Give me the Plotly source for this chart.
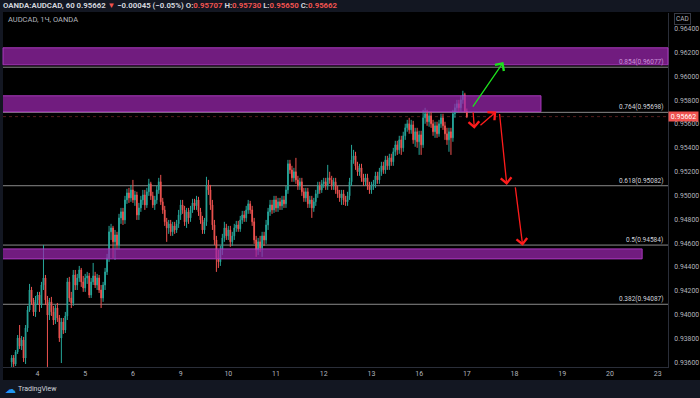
import plotly.graph_objects as go

# ---------------- data (AUDCAD, 1h, OANDA) ----------------
BAR_START = -13          # index of first hourly bar (0 = day "4", 00:00)
FIRST_OPEN = 0.93603

CLOSE = [
    0.93636, 0.93586, 0.93687, 0.93804, 0.93737, 0.93787, 0.93636, 0.93888, 0.94039, 0.94207, 0.94107, 0.94023,
    0.94123, 0.94165, 0.94081, 0.94249, 0.94308, 0.94123, 0.93997, 0.94107, 0.94023, 0.93955, 0.94056, 0.93972,
    0.93804, 0.93939, 0.93871, 0.93989, 0.94275, 0.94140, 0.94098, 0.94333, 0.94249, 0.94308, 0.94375, 0.94275,
    0.94224, 0.94308, 0.94325, 0.94165, 0.94275, 0.94325, 0.94249, 0.94308, 0.94207, 0.94140, 0.94249, 0.94359,
    0.94476, 0.94695, 0.94728, 0.94611, 0.94669, 0.94585, 0.94812, 0.94863, 0.94795, 0.94963, 0.95022, 0.94980,
    0.95047, 0.94963, 0.95005, 0.94837, 0.94896, 0.94963, 0.95005, 0.94921, 0.95031, 0.95098, 0.94997, 0.94921,
    0.94963, 0.95047, 0.95115, 0.94947, 0.94879, 0.94779, 0.94728, 0.94762, 0.94695, 0.94745, 0.94711, 0.94762,
    0.94837, 0.94921, 0.94879, 0.94779, 0.94863, 0.94812, 0.94879, 0.94938, 0.94913, 0.94963, 0.94863, 0.94795,
    0.94711, 0.94779, 0.95089, 0.95047, 0.94921, 0.94753, 0.94627, 0.94476, 0.94443, 0.94543, 0.94644, 0.94728,
    0.94661, 0.94711, 0.94611, 0.94661, 0.94728, 0.94753, 0.94720, 0.94795, 0.94837, 0.94812, 0.94879, 0.94930,
    0.94879, 0.94779, 0.94627, 0.94543, 0.94611, 0.94560, 0.94661, 0.94627, 0.94753, 0.94863, 0.94921, 0.94879,
    0.94963, 0.94896, 0.94947, 0.94913, 0.94963, 0.94930, 0.95047, 0.95266, 0.95215, 0.95148, 0.95199, 0.95131,
    0.95081, 0.95115, 0.95031, 0.94980, 0.95031, 0.94930, 0.94963, 0.94896, 0.94947, 0.95014, 0.95081, 0.95047,
    0.95098, 0.95115, 0.95081, 0.95148, 0.95131, 0.95081, 0.95115, 0.95047, 0.95014, 0.94980, 0.95014, 0.94963,
    0.94947, 0.94997, 0.95115, 0.95299, 0.95333, 0.95249, 0.95199, 0.95232, 0.95148, 0.95115, 0.95148, 0.95081,
    0.95047, 0.95081, 0.95098, 0.95165, 0.95131, 0.95199, 0.95249, 0.95215, 0.95299, 0.95249, 0.95316, 0.95283,
    0.95367, 0.95425, 0.95383, 0.95467, 0.95400, 0.95501, 0.95568, 0.95602, 0.95551, 0.95593, 0.95467, 0.95535,
    0.95451, 0.95509, 0.95425, 0.95652, 0.95686, 0.95619, 0.95669, 0.95602, 0.95535, 0.95585, 0.95518, 0.95602,
    0.95652, 0.95585, 0.95518, 0.95467, 0.95535, 0.95484, 0.95686, 0.95736, 0.95770, 0.95736, 0.95803, 0.95845,
    0.95707, 0.95662,
]

HIGH = [
    0.93661, 0.93661, 0.93703, 0.93829, 0.93913, 0.93821, 0.93813, 0.93913, 0.94073, 0.94258, 0.94233, 0.94140,
    0.94157, 0.94191, 0.94191, 0.94275, 0.94585, 0.94333, 0.94157, 0.94140, 0.94149, 0.94073, 0.94081, 0.94098,
    0.93997, 0.93972, 0.93972, 0.94023, 0.94308, 0.94317, 0.94191, 0.94375, 0.94375, 0.94342, 0.94409, 0.94392,
    0.94325, 0.94342, 0.94359, 0.94350, 0.94308, 0.94434, 0.94359, 0.94342, 0.94333, 0.94249, 0.94275, 0.94392,
    0.94510, 0.94745, 0.94762, 0.94745, 0.94711, 0.94695, 0.94846, 0.94896, 0.94896, 0.94997, 0.95056, 0.95064,
    0.95089, 0.95131, 0.95039, 0.95031, 0.94938, 0.94997, 0.95047, 0.95047, 0.95064, 0.95140, 0.95115, 0.95031,
    0.94997, 0.95081, 0.95148, 0.95173, 0.94980, 0.94913, 0.94812, 0.94795, 0.94795, 0.94779, 0.94779, 0.94795,
    0.94879, 0.94963, 0.94963, 0.94913, 0.94896, 0.94896, 0.94913, 0.94972, 0.94972, 0.94997, 0.94989, 0.94896,
    0.94829, 0.94812, 0.95157, 0.95131, 0.95089, 0.94963, 0.94795, 0.94661, 0.94543, 0.94577, 0.94678, 0.94779,
    0.94762, 0.94745, 0.94745, 0.94695, 0.94762, 0.94787, 0.94787, 0.94829, 0.94871, 0.94871, 0.94913, 0.94963,
    0.94955, 0.94913, 0.94812, 0.94661, 0.94644, 0.94661, 0.94695, 0.94695, 0.94795, 0.94896, 0.94963, 0.94963,
    0.94997, 0.94997, 0.94980, 0.94980, 0.94997, 0.94997, 0.95081, 0.95299, 0.95299, 0.95249, 0.95232, 0.95316,
    0.95165, 0.95148, 0.95148, 0.95064, 0.95064, 0.95064, 0.94997, 0.94997, 0.94980, 0.95047, 0.95115, 0.95115,
    0.95131, 0.95148, 0.95148, 0.95257, 0.95199, 0.95165, 0.95148, 0.95148, 0.95081, 0.95047, 0.95047, 0.95047,
    0.94997, 0.95031, 0.95148, 0.95425, 0.95383, 0.95367, 0.95283, 0.95266, 0.95266, 0.95182, 0.95182, 0.95182,
    0.95115, 0.95115, 0.95131, 0.95199, 0.95199, 0.95232, 0.95283, 0.95283, 0.95333, 0.95333, 0.95350, 0.95350,
    0.95400, 0.95459, 0.95459, 0.95501, 0.95501, 0.95535, 0.95602, 0.95635, 0.95652, 0.95635, 0.95627, 0.95568,
    0.95568, 0.95543, 0.95543, 0.95719, 0.95736, 0.95719, 0.95703, 0.95703, 0.95635, 0.95619, 0.95619, 0.95635,
    0.95686, 0.95686, 0.95619, 0.95568, 0.95568, 0.95568, 0.95719, 0.95770, 0.95803, 0.95803, 0.95837, 0.95879,
    0.95862, 0.95730,
]

LOW = [
    0.93561, 0.93561, 0.93569, 0.93670, 0.93712, 0.93703, 0.93603, 0.93586, 0.93855, 0.94023, 0.94081, 0.93989,
    0.93981, 0.94081, 0.94023, 0.94056, 0.94207, 0.94081, 0.93561, 0.93955, 0.93989, 0.93913, 0.93922, 0.93939,
    0.93771, 0.93594, 0.93838, 0.93846, 0.93955, 0.94107, 0.94056, 0.94073, 0.94207, 0.94207, 0.94275, 0.94233,
    0.94191, 0.94191, 0.94258, 0.94140, 0.94140, 0.94249, 0.94224, 0.94207, 0.94182, 0.94056, 0.94107, 0.94207,
    0.94333, 0.94443, 0.94627, 0.94476, 0.94459, 0.94543, 0.94543, 0.94762, 0.94753, 0.94762, 0.94930, 0.94938,
    0.94947, 0.94938, 0.94913, 0.94795, 0.94795, 0.94863, 0.94921, 0.94879, 0.94896, 0.94997, 0.94963, 0.94896,
    0.94879, 0.94930, 0.95014, 0.94921, 0.94846, 0.94745, 0.94611, 0.94678, 0.94661, 0.94661, 0.94678, 0.94686,
    0.94728, 0.94795, 0.94846, 0.94745, 0.94728, 0.94762, 0.94779, 0.94854, 0.94879, 0.94879, 0.94829, 0.94762,
    0.94678, 0.94678, 0.94745, 0.95005, 0.94879, 0.94711, 0.94585, 0.94359, 0.94392, 0.94409, 0.94501, 0.94611,
    0.94627, 0.94627, 0.94569, 0.94577, 0.94627, 0.94695, 0.94695, 0.94695, 0.94762, 0.94779, 0.94779, 0.94846,
    0.94846, 0.94745, 0.94594, 0.94485, 0.94501, 0.94527, 0.94485, 0.94577, 0.94594, 0.94711, 0.94829, 0.94846,
    0.94854, 0.94863, 0.94863, 0.94879, 0.94879, 0.94896, 0.94896, 0.95014, 0.95182, 0.95115, 0.95115, 0.95098,
    0.95047, 0.95047, 0.94997, 0.94947, 0.94947, 0.94896, 0.94896, 0.94812, 0.94863, 0.94913, 0.94980, 0.95014,
    0.95022, 0.95064, 0.95047, 0.95047, 0.95098, 0.95047, 0.95047, 0.95014, 0.94980, 0.94947, 0.94921, 0.94921,
    0.94913, 0.94913, 0.94963, 0.95081, 0.95266, 0.95215, 0.95165, 0.95165, 0.95115, 0.95081, 0.95081, 0.95047,
    0.95014, 0.95014, 0.95047, 0.95064, 0.95098, 0.95098, 0.95165, 0.95182, 0.95182, 0.95215, 0.95215, 0.95249,
    0.95249, 0.95333, 0.95341, 0.95350, 0.95341, 0.95367, 0.95467, 0.95535, 0.95518, 0.95518, 0.95434, 0.95409,
    0.95400, 0.95341, 0.95341, 0.95400, 0.95602, 0.95585, 0.95577, 0.95568, 0.95501, 0.95484, 0.95484, 0.95493,
    0.95568, 0.95551, 0.95467, 0.95425, 0.95367, 0.95341, 0.95451, 0.95652, 0.95694, 0.95703, 0.95703, 0.95770,
    0.95694, 0.95650,
]

DAY_LABELS = ["4", "5", "6", "9", "10", "11", "12", "13", "16", "17", "18", "19", "20", "23"]
BARS_PER_DAY = 24
PRICE_TICKS = [0.936, 0.938, 0.940, 0.942, 0.944, 0.946, 0.948, 0.950,
               0.952, 0.954, 0.956, 0.958, 0.960, 0.962, 0.964]

FIB_RATIOS = [0.854, 0.764, 0.618, 0.5, 0.382]
FIB_PRICES = [0.96077, 0.95698, 0.95082, 0.94584, 0.94087]

ZONE_TOP = [0.96240, 0.95837, 0.94552]
ZONE_BOTTOM = [0.96097, 0.95703, 0.94468]
ZONE_END_BAR = [None, 253.3, 304.2]   # None -> runs to the right edge

LAST_PRICE = 0.95662
HEADER = dict(sym="OANDA:AUDCAD, 60", last="0.95662", chg="\u22120.00045 (\u22120.05%)",
              o="0.95707", h="0.95730", l="0.95650", c="0.95662")

# scenario arrows: (from_bar, from_price, to_bar, to_price)
GREEN_ARROWS = [(218.5, 0.95734, 234.4, 0.96120)]
RED_ARROWS = [(219.1, 0.95711, 219.8, 0.95560),
              (222.1, 0.95579, 230.8, 0.95705),
              (232.4, 0.95697, 236.1, 0.95089),
              (240.3, 0.95081, 244.1, 0.94579)]

X_RANGE = [-17.36, 317.2]
Y_RANGE = [0.935606, 0.965318]

# ---------------- figure ----------------
UP = "#26a69a"
DN = "#ef5350"
TXT = "#b2b5be"
FONT = "Roboto"

n = min(len(CLOSE), len(HIGH), len(LOW))
xs = [BAR_START + i for i in range(n)]
opens = [FIRST_OPEN] + CLOSE[:n - 1]

fig = go.Figure()
fig.add_trace(go.Candlestick(
    x=xs, open=opens, high=HIGH[:n], low=LOW[:n], close=CLOSE[:n],
    increasing=dict(line=dict(color=UP, width=1), fillcolor=UP),
    decreasing=dict(line=dict(color=DN, width=1), fillcolor=DN),
    whiskerwidth=0, showlegend=False, hoverinfo="skip",
))

W, H = 700, 398
ML, MR, MT, MB = 3, 32, 13, 31
PW, PH = W - ML - MR, H - MT - MB


def px(xp):
    return (xp - ML) / PW


def py(yp):
    return (H - MB - yp) / PH


shapes = []
# black chart panel (plot + axes area)
shapes.append(dict(type="rect", xref="paper", yref="paper", x0=0, x1=px(W),
                   y0=py(380), y1=py(12), fillcolor="#000000", line=dict(width=0), layer="below"))
# fib lines
for p in FIB_PRICES:
    shapes.append(dict(type="line", xref="paper", yref="y", x0=0, x1=1, y0=p, y1=p,
                       line=dict(color="#8a8a8a", width=1), layer="below"))
# last price line
shapes.append(dict(type="line", xref="paper", yref="y", x0=0, x1=1, y0=LAST_PRICE, y1=LAST_PRICE,
                   line=dict(color="rgba(239,83,80,0.35)", width=1, dash="dot"), layer="below"))
# purple zones
for top, bot, end in zip(ZONE_TOP, ZONE_BOTTOM, ZONE_END_BAR):
    if end is None:
        shapes.append(dict(type="rect", xref="paper", yref="y", x0=0, x1=1, y0=bot, y1=top,
                           fillcolor="rgba(156,39,176,0.72)",
                           line=dict(color="rgba(176,60,196,0.9)", width=1), layer="above"))
    else:
        shapes.append(dict(type="rect", xref="x", yref="y", x0=X_RANGE[0] - 5, x1=end, y0=bot, y1=top,
                           fillcolor="rgba(156,39,176,0.72)",
                           line=dict(color="rgba(176,60,196,0.9)", width=1), layer="above"))

ann = []
# header
red = lambda s: f"<span style='color:{DN}'>{s}</span>"
header = (f"<b>{HEADER['sym']} {HEADER['last']} {red('▼')} {HEADER['chg']} "
          f"O:{red(HEADER['o'])} H:{red(HEADER['h'])} L:{red(HEADER['l'])} C:{red(HEADER['c'])}</b>")
ann.append(dict(text=header, xref="paper", yref="paper", x=px(1), y=py(6), xanchor="left",
                yanchor="middle", showarrow=False, font=dict(family=FONT, size=7.8, color="#d1d4dc")))
ann.append(dict(text="AUDCAD, 1Ч, OANDA", xref="paper", yref="paper", x=px(6), y=py(20),
                xanchor="left", yanchor="middle", showarrow=False,
                font=dict(family=FONT, size=7.5, color=TXT)))
# fib labels
for r, p in zip(FIB_RATIOS, FIB_PRICES):
    col = "#c98fd6" if r == FIB_RATIOS[0] else "#d1d4dc"
    ann.append(dict(text=f"{r}({p:.5f})", xref="paper", yref="y", x=px(665), y=p,
                    xanchor="right", yanchor="bottom", showarrow=False, yshift=-1,
                    font=dict(family=FONT, size=6.5, color=col)))
# last price tag
ann.append(dict(text=f"{LAST_PRICE:.5f}", xref="paper", yref="y", x=1, y=LAST_PRICE,
                xanchor="left", yanchor="middle", showarrow=False, bgcolor=DN, width=29, height=9,
                borderpad=0, font=dict(family=FONT, size=7, color="#ffffff")))
# currency box
ann.append(dict(text="CAD", xref="paper", yref="paper", x=px(682), y=py(18.5), xanchor="center",
                yanchor="middle", showarrow=False, bordercolor="#363a45", borderwidth=1, borderpad=1,
                bgcolor="#000000", font=dict(family=FONT, size=6.5, color=TXT)))
# arrows
for arrows, col in ((GREEN_ARROWS, "#1ee01e"), (RED_ARROWS, "#ff1c1c")):
    for x0, y0, x1, y1 in arrows:
        ann.append(dict(x=x1, y=y1, ax=x0, ay=y0, xref="x", yref="y", axref="x", ayref="y",
                        text="", showarrow=True, arrowhead=4, arrowsize=1.6, arrowwidth=1.3,
                        arrowcolor=col))
# footer
ann.append(dict(text="☁", xref="paper", yref="paper", x=px(3), y=py(389), xanchor="left",
                yanchor="middle", showarrow=False, font=dict(family="DejaVu Sans", size=11, color="#2196f3")))
ann.append(dict(text="TradingView", xref="paper", yref="paper", x=px(16), y=py(389), xanchor="left",
                yanchor="middle", showarrow=False, font=dict(family=FONT, size=7, color="#d1d4dc")))

fig.update_layout(
    width=W, height=H, margin=dict(l=ML, r=MR, t=MT, b=MB),
    paper_bgcolor="#131722", plot_bgcolor="#000000",
    shapes=shapes, annotations=ann, boxgap=0.45, showlegend=False,
    xaxis=dict(range=X_RANGE, rangeslider=dict(visible=False), showgrid=False, zeroline=False,
               tickvals=[k * BARS_PER_DAY for k in range(len(DAY_LABELS))], ticktext=DAY_LABELS,
               tickfont=dict(family=FONT, size=7, color=TXT), ticks="", showline=True,
               linecolor="#2a2e39", linewidth=1, fixedrange=True, automargin=False),
    yaxis=dict(range=Y_RANGE, side="right", showgrid=False, zeroline=False,
               tickvals=PRICE_TICKS, ticktext=[f"{v:.5f}" for v in PRICE_TICKS],
               tickfont=dict(family=FONT, size=6.8, color=TXT), ticks="", ticklabelstandoff=4,
               showline=True, linecolor="#2a2e39", linewidth=1, fixedrange=True, automargin=False),
)

fig.write_html(
    "out.html",
    config={"displayModeBar": False},
    post_script="document.body.style.margin='0';document.body.style.overflow='hidden';"
                "document.body.style.background='#131722';",
)
